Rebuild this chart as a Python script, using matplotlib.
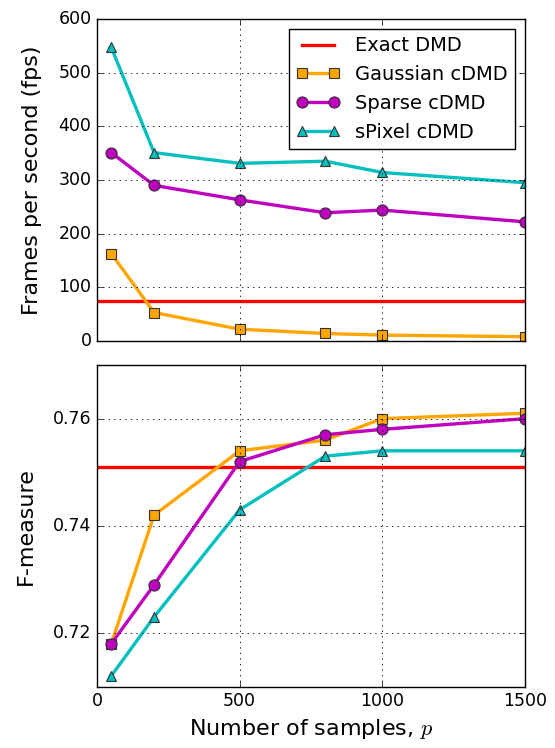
import matplotlib
matplotlib.use("Agg")
import matplotlib.pyplot as plt

plt.style.use("classic")

samples = [50, 200, 500, 800, 1000, 1500]

fps_exact = 75
fps_gaussian = [163, 53, 22, 14, 11, 8]
fps_sparse = [351, 290, 263, 239, 244, 222]
fps_spixel = [547, 351, 331, 335, 314, 295]

f_exact = 0.751
f_gaussian = [0.718, 0.742, 0.754, 0.756, 0.760, 0.761]
f_sparse = [0.718, 0.729, 0.752, 0.757, 0.758, 0.760]
f_spixel = [0.712, 0.723, 0.743, 0.753, 0.754, 0.754]

fig = plt.figure(figsize=(5.55, 7.48), dpi=100, facecolor="white")
ax1 = fig.add_axes([0.1748, 0.5441, 0.7712, 0.4305])
ax2 = fig.add_axes([0.1748, 0.0820, 0.7712, 0.4300])

lw = 2.4
ms = 7.5

for ax, exact, g, s, sp in [(ax1, fps_exact, fps_gaussian, fps_sparse, fps_spixel),
                            (ax2, f_exact, f_gaussian, f_sparse, f_spixel)]:
    ax.axhline(exact, color="red", lw=lw, label="Exact DMD")
    ax.plot(samples, g, "-s", color="orange", lw=lw, ms=ms, mec="#333333", mew=0.8,
            label="Gaussian cDMD")
    ax.plot(samples, s, "-o", color="m", lw=lw, ms=ms + 0.5, mec="#333333", mew=0.8,
            label="Sparse cDMD")
    ax.plot(samples, sp, "-^", color="c", lw=lw, ms=ms, mec="#333333", mew=0.8,
            label="sPixel cDMD")
    ax.set_xlim(0, 1500)
    ax.set_xticks([0, 500, 1000, 1500])
    ax.grid(True, linestyle=":", color="black", linewidth=0.6)
    ax.tick_params(labelsize=12.5, direction="in", top=True, right=True)

ax1.set_ylim(0, 600)
ax1.set_yticks([0, 100, 200, 300, 400, 500, 600])
ax1.tick_params(labelbottom=False)
ax1.set_ylabel("Frames per second (fps)", fontsize=16, labelpad=12)
ax1.legend(loc="upper right", numpoints=2, fontsize=14, fancybox=False,
           framealpha=1, borderpad=0.4, handlelength=2.2)

ax2.set_ylim(0.71, 0.77)
ax2.set_yticks([0.72, 0.74, 0.76])
ax2.set_yticklabels(["0.72", "0.74", "0.76"])
ax2.set_ylabel("F-measure", fontsize=16, labelpad=12)
ax2.set_xlabel(r"Number of samples, $p$", fontsize=16)

fig.savefig("out.png", dpi=100, facecolor="white")
